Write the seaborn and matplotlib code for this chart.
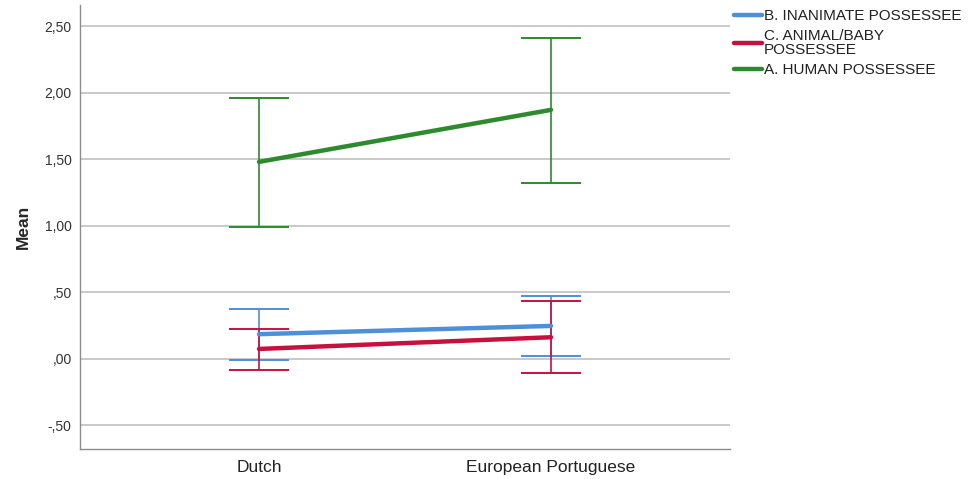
import numpy as np
import pandas as pd
import matplotlib
matplotlib.use("Agg")
import matplotlib.pyplot as plt
import seaborn as sns

# Group means with 95% confidence interval bounds
groups = ["Dutch", "European Portuguese"]
series_names = ["B. INANIMATE POSSESSEE", "C. ANIMAL/BABY\nPOSSESSEE", "A. HUMAN POSSESSEE"]
means_inanimate = [0.186, 0.248]
low_inanimate = [-0.008, 0.023]
high_inanimate = [0.374, 0.474]
means_animal = [0.075, 0.163]
low_animal = [-0.080, -0.105]
high_animal = [0.223, 0.436]
means_human = [1.481, 1.872]
low_human = [0.992, 1.323]
high_human = [1.962, 2.414]
ytick_values = [-0.5, 0.0, 0.5, 1.0, 1.5, 2.0, 2.5]
ytick_labels = ["-,50", ",00", ",50", "1,00", "1,50", "2,00", "2,50"]

colors = ["#4f8fd9", "#c8103f", "#2d8a2d"]

rows = []
for name, m, lo, hi in zip(series_names,
                           [means_inanimate, means_animal, means_human],
                           [low_inanimate, low_animal, low_human],
                           [high_inanimate, high_animal, high_human]):
    for i, g in enumerate(groups):
        rows.append({"group": g, "pos": i, "series": name,
                     "mean": m[i], "low": lo[i], "high": hi[i]})
df = pd.DataFrame(rows)

sns.set_theme(style="white")
plt.rcParams["font.family"] = ["Liberation Sans", "DejaVu Sans"]

fig = plt.figure(figsize=(9.71, 4.79), dpi=100)
ax = fig.add_axes([80 / 971, 30 / 479, 650 / 971, 444 / 479])

# Horizontal grid
for v in ytick_values:
    ax.axhline(v, color="#c9c9c9", lw=1.4, zorder=0)

# Confidence interval bars
for name, col in zip(series_names, colors):
    sub = df[df["series"] == name]
    ax.errorbar(sub["pos"], sub["mean"],
                yerr=[sub["mean"] - sub["low"], sub["high"] - sub["mean"]],
                fmt="none", ecolor=col, elinewidth=1.2, capsize=21.5,
                capthick=1.4, zorder=2)

# Mean lines
sns.lineplot(data=df, x="pos", y="mean", hue="series", hue_order=series_names,
             palette=colors, linewidth=3.2, ax=ax, legend=False, zorder=3)

ax.set_xlim(-0.613, 1.613)
ax.set_ylim(-0.677, 2.66)
ax.set_xticks([0, 1])
ax.set_xticklabels(groups, fontsize=12.5, color="#222222")
ax.set_yticks(ytick_values)
ax.set_yticklabels(ytick_labels, fontsize=10, color="#333333")
ax.tick_params(axis="both", length=0)
ax.tick_params(axis="x", pad=8)
ax.tick_params(axis="y", pad=6)
ax.set_xlabel("")
ax.set_ylabel("Mean", fontsize=12.5, fontweight="bold")
ax.yaxis.set_label_coords(-0.075, 0.5)

for side in ["top", "right"]:
    ax.spines[side].set_visible(False)
for side in ["left", "bottom"]:
    ax.spines[side].set_color("#8c8c8c")
    ax.spines[side].set_linewidth(1.0)

handles = [plt.Line2D([], [], color=c, lw=3.2) for c in colors]
leg = fig.legend(handles, series_names, loc="upper left",
                 bbox_to_anchor=(731 / 971, 1 - 6 / 479),
                 frameon=False, fontsize=11, handlelength=1.8,
                 handletextpad=0.15, labelspacing=0.4, borderpad=0.2,
                 borderaxespad=0)
for t in leg.get_texts():
    t.set_linespacing(1.0)
    t.set_color("#222222")

fig.savefig("out.png", dpi=100)
